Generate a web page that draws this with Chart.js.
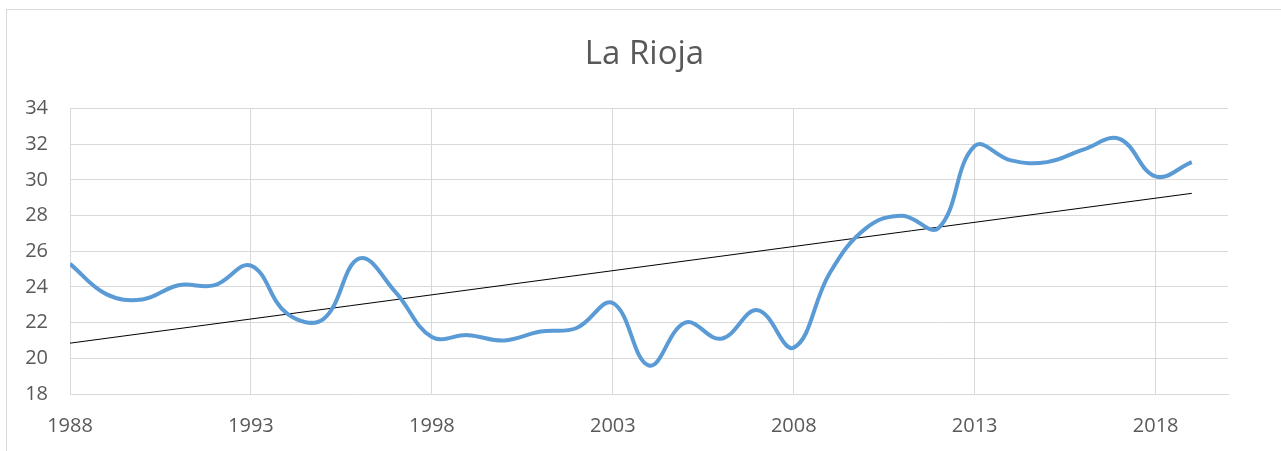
<!DOCTYPE html>
<html>
<head>
<meta charset="utf-8">
<script src="https://cdn.jsdelivr.net/npm/chart.js@4"></script>
<style>
  body { margin: 0; background: #fff; overflow: hidden; }
  #frame { position: absolute; left: 6px; top: 9px; width: 1300px; height: 460px; border: 1px solid #d9d9d9; }
  #chart { position: absolute; left: 0; top: 0; }
</style>
</head>
<body>
<div id="frame"></div>
<canvas id="chart" width="1281" height="451"></canvas>
<script>
// values
const years = [1988, 1989, 1990, 1991, 1992, 1993, 1994, 1995, 1996, 1997,
               1998, 1999, 2000, 2001, 2002, 2003, 2004, 2005, 2006, 2007,
               2008, 2009, 2010, 2011, 2012, 2013, 2014, 2015, 2016, 2017,
               2018, 2019];
const values = [25.3, 23.6, 23.3, 24.1, 24.1, 25.2, 22.5, 22.2, 25.6, 23.7,
                21.2, 21.3, 21.0, 21.5, 21.7, 23.1, 19.6, 22.0, 21.1, 22.7,
                20.6, 24.8, 27.3, 28.0, 27.3, 31.9, 31.1, 31.0, 31.7, 32.3,
                30.2, 31.0];
// linear trend line, end points
const trendYears = [1988, 2019];
const trendValues = [20.85, 29.25];
const xTicks = [1988, 1993, 1998, 2003, 2008, 2013, 2018];

const grey = '#595959';
const tickFont = { family: 'Open Sans', size: 20 };

new Chart(document.getElementById('chart'), {
    type: 'line',
    data: {
        datasets: [{
            label: 'La Rioja',
            data: years.map((y, i) => ({ x: y, y: values[i] })),
            borderColor: '#5b9bd5',
            borderWidth: 4,
            pointRadius: 0,
            tension: 0.4,
            fill: false
        }, {
            label: 'Trend',
            data: trendYears.map((y, i) => ({ x: y, y: trendValues[i] })),
            borderColor: '#000000',
            borderWidth: 1,
            pointRadius: 0,
            tension: 0,
            fill: false
        }]
    },
    options: {
        responsive: false,
        animation: false,
        layout: { padding: { left: 8, right: 0, top: 0, bottom: 0 } },
        plugins: {
            legend: { display: false },
            tooltip: { enabled: false },
            title: {
                display: true,
                text: 'La Rioja',
                color: grey,
                font: { family: 'Open Sans', size: 33, weight: 'normal' },
                padding: { top: 35, bottom: 34 }
            }
        },
        scales: {
            x: {
                type: 'linear',
                min: 1988,
                max: 2020,
                afterBuildTicks: s => { s.ticks = xTicks.map(v => ({ value: v })); },
                afterFit: s => { s.height = 57; },
                grid: { color: '#d9d9d9', lineWidth: 1, drawTicks: false },
                border: { color: '#d9d9d9', width: 1 },
                ticks: { color: grey, font: tickFont, padding: 20, maxRotation: 0, callback: v => String(v) }
            },
            y: {
                min: 18,
                max: 34,
                afterFit: s => { s.width = 62; },
                grid: { color: '#d9d9d9', lineWidth: 1, drawTicks: false },
                border: { display: false },
                ticks: { color: grey, font: tickFont, padding: 22, stepSize: 2 }
            },
            // empty right-hand spacer so the title stays centred on the whole box
            spacer: {
                type: 'linear',
                position: 'right',
                afterFit: s => { s.width = 53; },
                grid: { display: false },
                border: { display: false },
                ticks: { display: false }
            }
        }
    }
});
</script>
</body>
</html>
